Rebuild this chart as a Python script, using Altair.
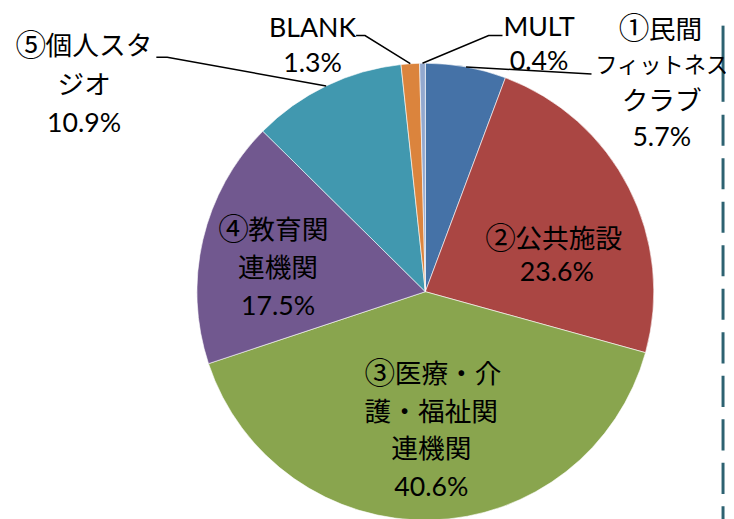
import math
import altair as alt
import pandas as pd

# ---- data ----
categories = ["①民間フィットネスクラブ", "②公共施設", "③医療・介護・福祉関連機関",
              "④教育関連機関", "⑤個人スタジオ", "BLANK", "MULT"]
shares = [5.7, 23.6, 40.6, 17.5, 10.9, 1.3, 0.4]
label_marks = ["①", "②", "③", "④", "⑤", "", ""]
label_names = [["民間", "フィットネス", "クラブ"], ["公共施設"],
               ["医療・介", "護・福祉関", "連機関"], ["教育関", "連機関"],
               ["個人スタ", "ジオ"], ["BLANK"], ["MULT"]]
colors = ["#4572A7", "#AA4643", "#89A54E", "#71588F", "#4198AF", "#DB843D", "#93A9CF"]

# ---- layout (page coordinates, converted below) ----
OX, OY = 2, 8
W, H = 726, 511
CX, CY, R = 424 - OX, 292 - OY, 231
FONT = "Lato, 'Noto Sans CJK JP', sans-serif"
FS = 27
# label blocks: (centre x, first line y, line height, first-line start x for circled labels)
label_layout = [(663, 28, 36.3, 622), (557, 240, 33, 487), (430, 376, 38.3, 365),
                (275, 231, 38.5, 217), (79, 45, 39, 12), (310, 26, 36, None),
                (539, 25, 35, None)]
narrow_lines = {"フィットネス": 22.5}
# leader bend points: (points before edge, points after edge)
leaders = {
    "①民間フィットネスクラブ": ([], [(592, 72)]),
    "⑤個人スタジオ": ([(152, 55), (163, 55)], []),
    "BLANK": ([(354, 33), (363, 33)], []),
    "MULT": ([], [(488, 33), (502, 33)]),
}

total = sum(shares)
pie_df = pd.DataFrame({"category": categories, "share": shares,
                       "idx": list(range(len(categories)))})

center_rows, left_rows, mark_rows = [], [], []
for cat, mk, names, s, (lx, ly, lh, sx) in zip(categories, label_marks, label_names,
                                                shares, label_layout):
    lines_ = names + [f"{s:.1f}%"]
    for i, t in enumerate(lines_):
        y = ly - OY + i * lh
        if i == 0 and mk:
            mark_rows.append({"label": mk, "lx": sx + 13 - OX, "ly": y})
            left_rows.append({"label": t, "lx": sx + 28 - OX, "ly": y, "fs": FS})
        else:
            center_rows.append({"label": t, "lx": lx - OX, "ly": y,
                                "fs": narrow_lines.get(t, FS)})

rows = []
cum = 0.0
for cat, s in zip(categories, shares):
    mid = (cum + s / 2) / total * 2 * math.pi
    cum += s
    if cat in leaders:
        before, after = leaders[cat]
        before = [(x - OX, y - OY) for x, y in before]
        after = [(x - OX, y - OY) for x, y in after]
        edge = (CX + R * math.sin(mid), CY - R * math.cos(mid))
        pts = before + [edge] + after
        for k, (px, py) in enumerate(pts):
            rows.append({"category": cat, "k": k, "px": px, "py": py})
lead_df = pd.DataFrame(rows)

pie = alt.Chart(pie_df).mark_arc(outerRadius=R, stroke="white", strokeWidth=0.6).encode(
    theta=alt.Theta("share:Q", stack=True),
    color=alt.Color("category:N", scale=alt.Scale(domain=categories, range=colors), legend=None),
    order=alt.Order("idx:Q"),
    x=alt.value(CX), y=alt.value(CY),
)

lines = alt.Chart(lead_df).mark_line(color="black", strokeWidth=1.5).encode(
    x=alt.X("px:Q", scale=None),
    y=alt.Y("py:Q", scale=None),
    detail="category:N",
    order="k:Q",
)


def text_layer(df, align, font=FONT, size=None):
    enc = dict(x=alt.X("lx:Q", scale=None), y=alt.Y("ly:Q", scale=None), text="label:N")
    props = dict(font=font, align=align, baseline="middle", color="black")
    if size is None:
        enc["size"] = alt.Size("fs:Q", scale=None)
    else:
        props["fontSize"] = size
    return alt.Chart(pd.DataFrame(df)).mark_text(**props).encode(**enc)


labels_c = text_layer(center_rows, "center")
labels_l = text_layer(left_rows, "left")
labels_m = text_layer(mark_rows, "center", font="Noto Sans CJK JP", size=31)

vx = 725 - OX
solid = alt.Chart(pd.DataFrame({"a": [0]})).mark_rule(color="#2D6271", strokeWidth=3).encode(
    x=alt.value(vx), y=alt.value(23 - OY), y2=alt.value(100 - OY))
dashed = alt.Chart(pd.DataFrame({"a": [0]})).mark_rule(
    color="#2D6271", strokeWidth=3, strokeDash=[31.5, 12.5]).encode(
    x=alt.value(vx), y=alt.value(113 - OY), y2=alt.value(H + 20))

chart = alt.layer(solid, dashed, pie, lines, labels_c, labels_l, labels_m).properties(
    width=W, height=H, autosize=alt.AutoSizeParams(type="none"), padding=0,
).configure_view(stroke=None)

chart.save("out.html", embed_options={"renderer": "svg", "actions": False})
